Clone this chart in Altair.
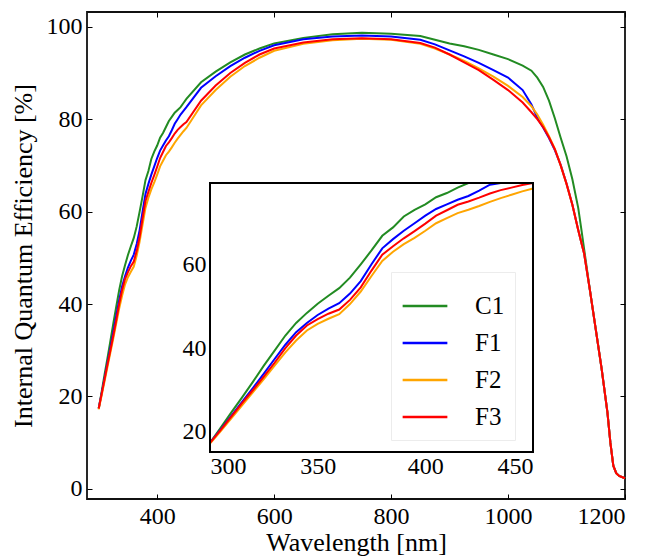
import altair as alt
import pandas as pd

series = ["C1", "F1", "F2", "F3"]
colors = ["#228B22", "#0000FF", "#FFA500", "#FF0000"]

wavelength = [300, 305, 310, 315, 320, 325, 330, 335, 340, 345, 350, 355, 360, 365, 370,
              375, 380, 385, 390, 395, 400, 405, 410, 415, 420, 425, 430, 435, 440, 445, 450,
              475, 500, 525, 550, 575, 600, 650, 700, 750, 800, 850, 875, 900, 925, 950, 975,
              1000, 1025, 1040, 1050, 1060, 1070, 1080, 1090, 1100, 1110, 1120, 1125, 1130,
              1140, 1150, 1160, 1170, 1175, 1180, 1185, 1190, 1200]

iqe_c1 = [17.4, 21.0, 24.7, 28.3, 32.0, 35.8, 39.4, 43.0, 46.0, 48.4, 50.6, 52.5, 54.3, 56.8, 60.0,
          63.3, 66.8, 68.8, 71.4, 73.0, 74.3, 76.0, 77.0, 78.3, 79.6, 80.5, 81.4, 82.0, 82.6, 83.5, 84.4,
          88.0, 90.3, 92.3, 94.0, 95.3, 96.4, 97.6, 98.4, 98.7, 98.5, 98.0, 97.2, 96.4, 95.8, 95.0, 94.0,
          93.0, 91.6, 90.5, 89.0, 87.0, 84.0, 80.2, 76.0, 72.0, 67.0, 60.8, 56.5, 52.0,
          43.0, 34.5, 26.0, 16.5, 10.0, 5.0, 3.4, 2.8, 2.3]
iqe_f1 = [17.4, 20.6, 23.9, 27.2, 30.5, 33.9, 37.4, 40.8, 43.8, 46.0, 47.9, 49.4, 50.7, 53.0, 56.0,
          60.0, 63.8, 66.0, 68.0, 69.8, 71.6, 73.2, 74.3, 75.4, 76.3, 77.6, 79.0, 80.0, 81.0, 81.8, 82.6,
          86.8, 89.3, 91.5, 93.3, 94.8, 96.0, 97.3, 97.9, 98.1, 97.9, 97.2, 96.2, 94.9, 93.6, 92.2, 90.6,
          89.0, 86.3, 83.2, 80.3, 78.2, 75.9, 73.3, 70.1, 66.1, 61.5, 56.0, 53.5, 51.0,
          43.0, 34.5, 26.0, 16.5, 10.0, 5.0, 3.4, 2.8, 2.3]
iqe_f2 = [17.2, 20.2, 23.3, 26.4, 29.5, 32.6, 35.8, 39.0, 41.8, 44.2, 45.8, 47.0, 48.1, 50.5, 53.5,
          57.2, 60.8, 63.0, 64.8, 66.3, 68.0, 69.8, 71.0, 72.2, 73.0, 73.9, 74.9, 75.8, 76.6, 77.4, 78.1,
          83.0, 86.3, 89.2, 91.5, 93.3, 94.8, 96.3, 97.1, 97.4, 97.2, 96.3, 95.3, 94.0, 92.6, 91.0, 89.2,
          87.2, 84.8, 82.8, 81.0, 78.8, 76.3, 73.6, 70.0, 66.0, 61.5, 56.0, 53.5, 51.0,
          43.0, 34.5, 26.0, 16.5, 10.0, 5.0, 3.4, 2.8, 2.3]
iqe_f3 = [17.4, 20.5, 23.7, 26.9, 30.0, 33.2, 36.5, 40.0, 43.0, 45.4, 46.9, 48.2, 49.2, 51.5, 54.5,
          58.5, 62.3, 64.3, 66.2, 67.9, 69.7, 71.6, 72.9, 74.2, 75.0, 75.9, 76.9, 77.7, 78.3, 78.9, 79.4,
          84.0, 87.3, 90.0, 92.2, 94.0, 95.3, 96.6, 97.3, 97.5, 97.3, 96.5, 95.5, 94.0, 92.3, 90.6, 88.5,
          86.3, 83.6, 81.5, 80.0, 78.3, 76.1, 73.5, 70.0, 66.0, 61.5, 56.0, 53.5, 51.0,
          43.0, 34.5, 26.0, 16.5, 10.0, 5.0, 3.4, 2.8, 2.3]

main_x_domain = [280, 1200]
main_y_domain = [-2.2, 103.2]
inset_x_domain = [300, 450]
inset_y_domain = [15.2, 79.4]
main_x_ticks = [400, 600, 800, 1000, 1200]
main_y_ticks = [0, 20, 40, 60, 80, 100]
inset_x_ticks = [300, 350, 400, 450]
inset_y_ticks = [20, 40, 60]

rows = []
for name, vals in zip(series, [iqe_c1, iqe_f1, iqe_f2, iqe_f3]):
    for w, v in zip(wavelength, vals):
        rows.append({"wl": w, "iqe": v, "series": name})
df = pd.DataFrame(rows)

box_df = pd.DataFrame({"x": [inset_x_domain[0]], "x2": [inset_x_domain[1]],
                       "y": [inset_y_domain[0]], "y2": [inset_y_domain[1]]})

# layout (pixels, plot area)
W, H = 538, 487
IL, IR, IT, IB = 123, 446, 171, 440
FONT = "Liberation Serif"

mx = alt.Scale(domain=main_x_domain, nice=False, zero=False)
my = alt.Scale(domain=main_y_domain, nice=False, zero=False)
ix = alt.Scale(domain=inset_x_domain, range=[IL, IR], nice=False, zero=False)
iy = alt.Scale(domain=inset_y_domain, range=[IB, IT], nice=False, zero=False, clamp=True)

legend = alt.Legend(title=None, orient="none", legendX=304, legendY=260,
                    symbolType="stroke", symbolSize=2000, symbolStrokeWidth=2.5,
                    labelFont=FONT, labelFontSize=25, labelColor="black",
                    fillColor="white", strokeColor="#ececec", padding=10,
                    rowPadding=-9, labelOffset=26)
color = alt.Color("series:N", scale=alt.Scale(domain=series, range=colors), legend=legend)

main = alt.Chart(df).mark_line(strokeWidth=2).encode(
    x=alt.X("wl:Q", scale=mx, axis=alt.Axis(orient="bottom", values=main_x_ticks, format="d",
                                            offset=-5, tickSize=5, labelPadding=5,
                                            title="Wavelength [nm]", titlePadding=1)),
    y=alt.Y("iqe:Q", scale=my, axis=alt.Axis(orient="left", values=main_y_ticks, format="d",
                                             offset=-5, tickSize=5, labelPadding=5,
                                             title="Internal Quantum Efficiency [%]", titlePadding=10)),
    color=color,
)

main_ticks = alt.Chart(df).mark_point(opacity=0).encode(
    x=alt.X("wl:Q", scale=mx, axis=alt.Axis(orient="top", values=main_x_ticks, offset=-5,
                                            tickSize=5, labels=False, title=None)),
    y=alt.Y("iqe:Q", scale=my, axis=alt.Axis(orient="right", values=main_y_ticks, offset=-5,
                                             tickSize=5, labels=False, title=None)),
)

bg = alt.Chart(box_df).mark_rect(fill="white").encode(
    x=alt.X("x:Q", scale=ix, axis=None), x2="x2",
    y=alt.Y("y:Q", scale=iy, axis=None), y2="y2",
)

inset_lines = alt.Chart(df).transform_filter(alt.datum.wl <= inset_x_domain[1]).mark_line(strokeWidth=2).encode(
    x=alt.X("wl:Q", scale=ix, axis=alt.Axis(orient="bottom", values=inset_x_ticks, format="d",
                                            offset=-(H - IB + 4), tickSize=4, labelPadding=2, title=None)),
    y=alt.Y("iqe:Q", scale=iy, axis=alt.Axis(orient="left", values=inset_y_ticks, format="d",
                                             offset=-(IL + 4), tickSize=4, labelPadding=4, title=None)),
    color=color,
)

inset_ticks = alt.Chart(df).transform_filter(alt.datum.wl <= inset_x_domain[1]).mark_point(opacity=0).encode(
    x=alt.X("wl:Q", scale=ix, axis=alt.Axis(orient="top", values=inset_x_ticks, offset=-(IT + 4),
                                            tickSize=4, labels=False, title=None)),
    y=alt.Y("iqe:Q", scale=iy, axis=alt.Axis(orient="right", values=inset_y_ticks, offset=-(W - IR + 4),
                                             tickSize=4, labels=False, title=None)),
)

frame = alt.Chart(box_df).mark_rect(fillOpacity=0, stroke="black", strokeWidth=2).encode(
    x=alt.X("x:Q", scale=ix, axis=None), x2="x2",
    y=alt.Y("y:Q", scale=iy, axis=None), y2="y2",
)

inset = alt.layer(bg, inset_lines, inset_ticks, frame).resolve_axis(x="independent", y="independent")

chart = alt.layer(main, main_ticks, inset).resolve_scale(
    x="independent", y="independent"
).properties(
    width=W, height=H,
    padding={"left": 79, "top": 4, "right": 18, "bottom": 57},
    autosize=alt.AutoSizeParams(type="none"),
).configure_axis(
    labelFont=FONT, titleFont=FONT, labelFontSize=24, titleFontSize=26,
    titleFontWeight="normal", labelColor="black", titleColor="black",
    tickColor="black", tickWidth=1, grid=False, domain=False,
).configure_view(
    stroke="#111111", strokeWidth=1.8,
)

chart.save("out.html", embed_options={"renderer": "svg", "actions": False})
